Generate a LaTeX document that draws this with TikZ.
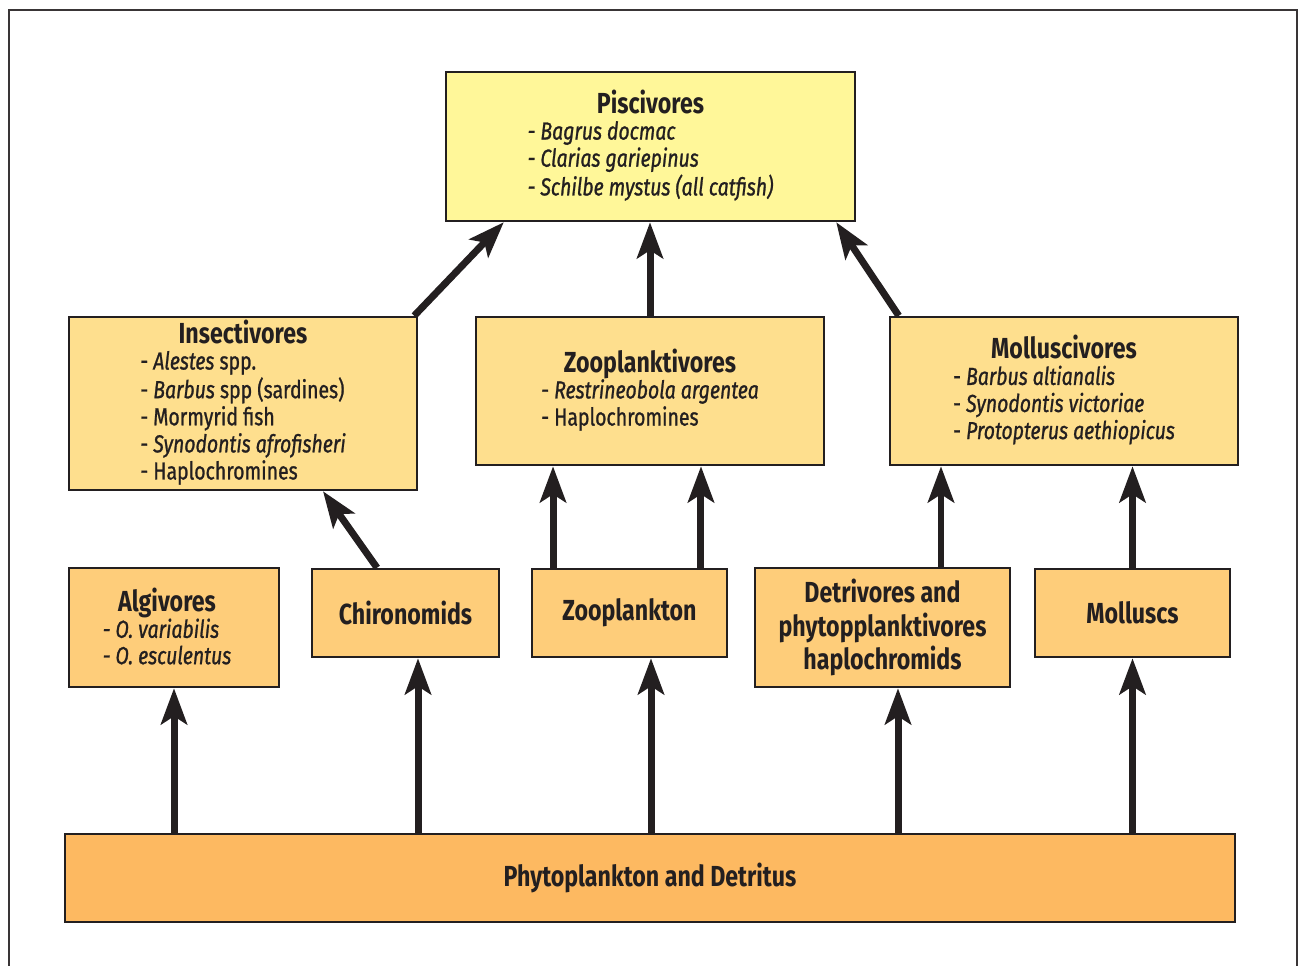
\documentclass[tikz,border=0pt]{standalone}
\usepackage{fontspec}
\setmainfont{Fira Sans}[FakeStretch=0.8]
\newfontfamily\listfont{Fira Sans}[FakeStretch=0.79, FakeBold=1.0]
\usetikzlibrary{arrows.meta,positioning}
\definecolor{inkdark}{RGB}{35,31,32}
\definecolor{piscyellow}{RGB}{255,247,153}
\definecolor{midyellow}{RGB}{254,223,142}
\definecolor{loworange}{RGB}{254,205,122}
\definecolor{baseorange}{RGB}{253,185,97}
\newcommand{\grouptitle}[1]{{\normalfont\fontsize{16.5}{19}\selectfont\bfseries #1}}

\begin{document}
\begin{tikzpicture}[x=0.02cm, y=-0.02cm,
    every node/.style={text=inkdark},
    foodbox/.style={draw=inkdark, line width=0.05cm, rectangle, align=center, inner sep=0pt, font=\listfont\fontsize{14}{15}\selectfont},
    preybox/.style={foodbox, fill=loworange, font=\normalfont\fontsize{16.5}{19.3}\selectfont\bfseries},
    feeds/.style={draw=inkdark, line width=0.14cm, -{Stealth[length=0.72cm, width=0.52cm, inset=0.16cm]}}]
    \useasboundingbox (0,0) rectangle (1298,966);

    % Frame
    \draw[inkdark!90, line width=0.045cm] (9,966) -- (9,10) -- (1297,10) -- (1297,966);

    % Top level
    \node[foodbox, fill=piscyellow, minimum width=8.18cm, minimum height=2.98cm] (pisc) at (650.5,146.5) {
        \grouptitle{Piscivores}\\
        \begin{tabular}[t]{@{}l@{}}
        \textit{- Bagrus docmac} \\
        \textit{- Clarias gariepinus} \\
        \textit{- Schilbe mystus (all catfish)}
        \end{tabular}
    };

    % Middle level
    \node[foodbox, fill=midyellow, minimum width=6.96cm, minimum height=3.46cm] (insect) at (243,403.5) {
        \grouptitle{Insectivores}\\
        \begin{tabular}[t]{@{}l@{}}
        - \textit{Alestes} spp. \\
        - \textit{Barbus} spp (sardines) \\
        - Mormyrid fish \\
        - \textit{Synodontis afrofisheri} \\
        - Haplochromines
        \end{tabular}
    };
    \node[foodbox, fill=midyellow, minimum width=6.96cm, minimum height=2.96cm] (zpv) at (650,391) {
        \grouptitle{Zooplanktivores}\\
        \begin{tabular}[t]{@{}l@{}}
        - \textit{Restrineobola argentea} \\
        - Haplochromines
        \end{tabular}
    };
    \node[foodbox, fill=midyellow, minimum width=6.96cm, minimum height=2.96cm] (molv) at (1064,391) {
        \grouptitle{Molluscivores}\\
        \begin{tabular}[t]{@{}l@{}}
        - \textit{Barbus altianalis} \\
        - \textit{Synodontis victoriae} \\
        - \textit{Protopterus aethiopicus}
        \end{tabular}
    };

    % Lower level
    \node[foodbox, fill=loworange, minimum width=4.2cm, minimum height=2.38cm] (alg) at (174,627.5) {};
    \node[font=\listfont\fontsize{14}{15}\selectfont, align=center] (algtext) at ([xshift=-0.14cm, yshift=-0.05cm]alg.center) {
        \grouptitle{Algivores}\\
        \begin{tabular}[t]{@{}l@{}}
        \textit{- O. variabilis} \\
        \textit{- O. esculentus}
        \end{tabular}
    };
    \node[preybox, minimum width=3.74cm, minimum height=1.76cm] (chir) at (405.5,613) {Chironomids};
    \node[preybox, minimum width=3.9cm, minimum height=1.76cm] (zpl) at (629.5,613) {Zooplankton};
    \node[preybox, minimum width=5.1cm, minimum height=2.38cm] (detr) at (882.5,627.5) {Detrivores and\\phytopplanktivores\\haplochromids};
    \node[preybox, minimum width=3.9cm, minimum height=1.76cm] (moll) at (1132.5,613) {Molluscs};

    % Base
    \node[preybox, fill=baseorange, minimum width=23.4cm, minimum height=1.76cm] (phyto) at (650,878) {Phytoplankton and Detritus};

    % Arrows from the base
    \draw[feeds] (alg.south |- phyto.north) -- (alg.south);
    \draw[feeds] ([xshift=0.25cm]chir.south |- phyto.north) -- ([xshift=0.25cm]chir.south);
    \draw[feeds] ([xshift=0.43cm]zpl.south |- phyto.north) -- ([xshift=0.43cm]zpl.south);
    \draw[feeds] ([xshift=0.31cm]detr.south |- phyto.north) -- ([xshift=0.31cm]detr.south);
    \draw[feeds] (moll.south |- phyto.north) -- (moll.south);

    % Arrows to the middle level
    \draw[feeds] ([xshift=-0.57cm]chir.north) -- ([xshift=1.6cm]insect.south);
    \draw[feeds] ([xshift=-1.53cm]zpl.north) -- ([xshift=-1.53cm]zpl.north |- zpv.south);
    \draw[feeds] ([xshift=1.43cm]zpl.north) -- ([xshift=1.43cm]zpl.north |- zpv.south);
    \draw[feeds] ([xshift=1.17cm]detr.north) -- ([xshift=1.17cm]detr.north |- molv.south);
    \draw[feeds] (moll.north) -- (moll.north |- molv.south);

    % Arrows to the top
    \draw[feeds] ([xshift=-0.08cm]insect.north east) -- ([xshift=1.18cm]pisc.south west);
    \draw[feeds] (zpv.north) -- (zpv.north |- pisc.south);
    \draw[feeds] ([xshift=0.2cm]molv.north west) -- ([xshift=-0.4cm]pisc.south east);
\end{tikzpicture}
\end{document}
